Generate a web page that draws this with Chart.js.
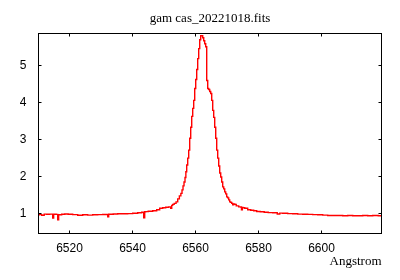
<!DOCTYPE html>
<html><head><meta charset="utf-8">
<script src="https://cdn.jsdelivr.net/npm/chart.js@4"></script>
<style>html,body{margin:0;padding:0;background:#fff}</style>
</head><body>
<canvas id="c" width="400" height="280"></canvas>
<script>
const titleText = 'gam cas_20221018.fits';
const xLabel = 'Angstrom';
const xTicks = [6520, 6540, 6560, 6580, 6600];
const yTicks = [1, 2, 3, 4, 5];
const xRange = [6510.16, 6619.05];
const yRange = [0.459, 5.865];

const wavelength = [
  6510.06, 6510.70, 6511.65, 6512.28, 6513.24, 6514.19, 6514.52, 6514.82, 6515.12, 6515.46,
  6516.11, 6516.41, 6516.71, 6517.05, 6518.00, 6518.95, 6520.22, 6521.81, 6523.40, 6524.98,
  6526.57, 6528.16, 6529.75, 6531.33, 6531.99, 6532.29, 6532.59, 6533.24, 6534.51, 6536.10,
  6537.68, 6539.27, 6540.86, 6542.45, 6543.40, 6543.72, 6544.03, 6544.35, 6545.62, 6547.21,
  6548.16, 6549.11, 6550.07, 6551.02, 6551.97, 6552.30, 6552.61, 6552.92, 6553.56, 6554.10,
  6554.61, 6555.15, 6555.56, 6555.88, 6556.20, 6556.51, 6556.83,
  6557.05, 6557.37, 6557.69, 6558.00, 6558.32, 6558.64, 6558.96, 6559.27, 6559.59, 6559.91,
  6560.23, 6560.54, 6560.86, 6561.18, 6561.50, 6561.81, 6562.13, 6562.45, 6562.77, 6563.08,
  6563.40, 6563.72, 6564.04, 6564.35, 6564.67, 6564.99, 6565.31, 6565.62, 6565.94, 6566.26,
  6566.58, 6566.89, 6567.21, 6567.53, 6567.85, 6568.16, 6568.48, 6568.80, 6569.12, 6569.43,
  6569.75, 6570.07, 6570.39, 6570.70, 6571.02, 6571.34, 6571.66, 6571.97, 6572.29, 6572.61,
  6573.24, 6574.20, 6574.45, 6574.74, 6575.02, 6575.15, 6576.10, 6577.05, 6578.01, 6578.96,
  6579.91, 6581.18, 6582.45, 6583.72, 6585.31, 6586.60, 6586.90, 6588.48, 6590.07, 6591.66,
  6593.25, 6594.83, 6596.42, 6598.01, 6599.60, 6601.18, 6602.77, 6604.36, 6605.95, 6607.54,
  6609.12, 6610.71, 6612.30, 6613.89, 6615.47, 6617.06, 6618.97
];
const flux = [
  0.965, 0.970, 0.952, 0.984, 0.978, 0.984, 0.984, 0.876, 0.978, 0.978,
  0.975, 0.831, 0.965, 0.965, 0.978, 0.987, 0.978, 0.970, 0.952, 0.965,
  0.957, 0.965, 0.970, 0.973, 0.973, 0.911, 0.978, 0.978, 0.987, 0.992,
  0.992, 0.997, 1.005, 1.019, 1.032, 0.884, 1.045, 1.051, 1.059, 1.073,
  1.099, 1.140, 1.153, 1.167, 1.180, 1.140, 1.220, 1.247, 1.274, 1.315,
  1.395, 1.476, 1.543, 1.637, 1.745, 1.852, 1.973,
  2.130, 2.309, 2.497, 2.712, 3.035, 3.331, 3.626, 3.842, 4.057, 4.379,
  4.621, 4.890, 5.186, 5.455, 5.697, 5.804, 5.804, 5.750, 5.669, 5.589,
  5.508, 4.594, 4.379, 4.352, 4.298, 4.245, 4.057, 3.788, 3.599, 3.331,
  3.035, 2.712, 2.497, 2.282, 2.094, 1.987, 1.852, 1.718, 1.664, 1.583,
  1.530, 1.449, 1.422, 1.368, 1.315, 1.301, 1.274, 1.234, 1.261, 1.247,
  1.207, 1.180, 1.175, 1.099, 1.160, 1.153, 1.140, 1.099, 1.086, 1.073,
  1.054, 1.046, 1.032, 1.024, 1.019, 0.985, 1.011, 1.005, 0.997, 0.992,
  0.984, 0.978, 0.976, 0.970, 0.965, 0.957, 0.946, 0.944, 0.944, 0.938,
  0.944, 0.938, 0.938, 0.944, 0.938, 0.944, 0.938
];

const points = wavelength.map((w, i) => ({x: w, y: flux[i]}));

const framePlugin = {
  id: 'frame',
  afterDatasetsDraw(chart) {
    const {ctx, chartArea: a, scales} = chart;
    ctx.save();
    ctx.strokeStyle = '#000';
    ctx.lineWidth = 1;
    ctx.strokeRect(a.left, a.top, a.right - a.left, a.bottom - a.top);
    ctx.beginPath();
    scales.x.ticks.forEach(t => {
      const p = Math.floor(scales.x.getPixelForValue(t.value)) + 0.5;
      ctx.moveTo(p, a.bottom); ctx.lineTo(p, a.bottom - 3);
      ctx.moveTo(p, a.top); ctx.lineTo(p, a.top + 3);
    });
    scales.y.ticks.forEach(t => {
      const p = Math.floor(scales.y.getPixelForValue(t.value)) + 0.5;
      ctx.moveTo(a.left, p); ctx.lineTo(a.left + 3, p);
      ctx.moveTo(a.right, p); ctx.lineTo(a.right - 3, p);
    });
    ctx.stroke();
    ctx.restore();
  }
};

new Chart(document.getElementById('c'), {
  type: 'line',
  data: {
    datasets: [{
      data: points,
      borderColor: '#ff0000',
      borderWidth: 1.4,
      pointRadius: 0,
      fill: false,
      stepped: 'middle'
    }]
  },
  options: {
    responsive: false,
    animation: false,
    devicePixelRatio: 1,
    layout: {padding: {left: 0, right: 18.5, top: 0, bottom: 0}},
    plugins: {
      legend: {display: false},
      tooltip: {enabled: false},
      title: {
        display: true,
        text: titleText,
        color: '#000',
        fullSize: false,
        font: {family: 'Liberation Serif', size: 13, weight: 'normal', lineHeight: 1.2},
        padding: {top: 11.2, bottom: 6.7}
      }
    },
    scales: {
      x: {
        type: 'linear',
        min: xRange[0],
        max: xRange[1],
        grid: {display: false, drawTicks: false},
        border: {display: false},
        afterBuildTicks: s => { s.ticks = xTicks.map(v => ({value: v})); },
        afterFit: s => { s.height = 46.5; },
        ticks: {
          color: '#000',
          padding: 8,
          maxRotation: 0,
          font: {family: 'Liberation Sans', size: 12},
          callback: v => String(v)
        },
        title: {
          display: true,
          text: xLabel,
          align: 'end',
          color: '#000',
          font: {family: 'Liberation Serif', size: 13, lineHeight: 1.2},
          padding: {top: 0, bottom: 10.6}
        }
      },
      y: {
        type: 'linear',
        min: yRange[0],
        max: yRange[1],
        grid: {display: false, drawTicks: false},
        border: {display: false},
        afterBuildTicks: s => { s.ticks = yTicks.map(v => ({value: v})); },
        afterFit: s => { s.width = 38.5; },
        ticks: {
          color: '#000',
          padding: 12,
          font: {family: 'Liberation Sans', size: 12},
          callback: v => String(v)
        }
      }
    }
  },
  plugins: [framePlugin]
});
</script>
</body></html>
